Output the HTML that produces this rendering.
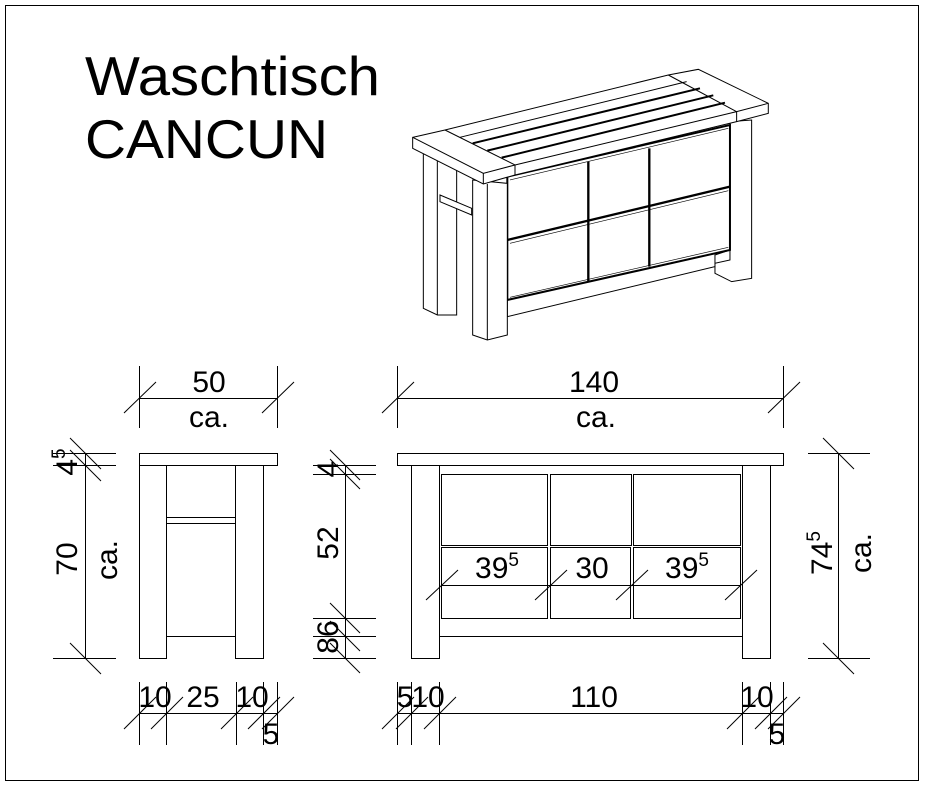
<!DOCTYPE html>
<html><head><style>html,body{margin:0;padding:0;background:#fff}svg{display:block}</style></head>
<body>
<svg width="925" height="788" viewBox="0 0 925 788" xmlns="http://www.w3.org/2000/svg" font-family="Liberation Sans, sans-serif">
<rect x="0" y="0" width="925" height="788" fill="#fff"/>
<rect x="5.5" y="5.5" width="913" height="775" fill="none" stroke="#000" stroke-width="1"/>
<text x="85" y="95" font-size="55" textLength="295" lengthAdjust="spacingAndGlyphs">Waschtisch</text>
<text x="85" y="158" font-size="55" textLength="243" lengthAdjust="spacingAndGlyphs">CANCUN</text>

<!-- isometric -->
<g transform="translate(400,60) scale(0.3333)" fill="#fff" stroke="#000" stroke-width="3">
  <polygon points="70,280 170,300 170,765 112,765 70,745"/>
  <line x1="112" y1="300" x2="112" y2="765"/>
  <polygon points="990,185 1055,180 1055,655 995,665 945,640 945,610 990,600"/>
  <polygon points="322,350 990,195 990,570 945,585 945,620 322,770"/>
  <polygon points="322,350 990,195 990,570 322,720" fill="none" stroke-width="6"/>
  <line x1="322" y1="540" x2="990" y2="380" stroke-width="7"/>
  <line x1="565" y1="305" x2="565" y2="665" stroke-width="7"/>
  <line x1="748" y1="265" x2="748" y2="620" stroke-width="7"/>
  <line x1="330" y1="360" x2="985" y2="205" stroke-width="2"/>
  <line x1="330" y1="550" x2="985" y2="392" stroke-width="2"/>
  <line x1="330" y1="712" x2="985" y2="562" stroke-width="2"/>
  <polygon points="120,405 215,445 215,465 120,425"/>
  <polygon points="218,360 322,370 322,825 262,840 218,825"/>
  <line x1="262" y1="372" x2="262" y2="840"/>
  <polygon points="38,232 135,210 805,45 895,28 1105,130 1105,160 1010,185 345,345 250,372 38,265"/>
  <polyline points="38,232 250,340 345,315 1010,155 1105,130" fill="none"/>
  <line x1="250" y1="340" x2="250" y2="372"/>
  <line x1="345" y1="315" x2="345" y2="345"/>
  <line x1="1010" y1="155" x2="1010" y2="185"/>
  <line x1="135" y1="210" x2="345" y2="315"/>
  <line x1="805" y1="45" x2="1010" y2="155"/>
  <line x1="180" y1="232" x2="860" y2="65"/>
  <line x1="218" y1="250" x2="900" y2="85" stroke-width="6"/>
  <line x1="262" y1="272" x2="940" y2="106" stroke-width="6"/>
  <line x1="305" y1="293" x2="975" y2="128" stroke-width="6"/>
</g>

<g stroke="#000" stroke-width="1" fill="none">
  <rect x="139.5" y="453.5" width="138" height="12"/>
  <rect x="139.5" y="465.5" width="27" height="193"/>
  <rect x="235.5" y="465.5" width="28" height="193"/>
  <line x1="166" y1="517.5" x2="236" y2="517.5"/>
  <line x1="166" y1="523.5" x2="236" y2="523.5"/>
  <line x1="166" y1="636.5" x2="236" y2="636.5"/>
  <line x1="139.5" y1="366" x2="139.5" y2="428"/>
  <line x1="277.5" y1="366" x2="277.5" y2="428"/>
  <line x1="139" y1="398.5" x2="278" y2="398.5"/>
  <line x1="124" y1="413" x2="156" y2="382"/>
  <line x1="262" y1="413" x2="294" y2="382"/>
  <line x1="53" y1="453.5" x2="116" y2="453.5"/>
  <line x1="53" y1="465.5" x2="116" y2="465.5"/>
  <line x1="53" y1="658.5" x2="116" y2="658.5"/>
  <line x1="85.5" y1="453" x2="85.5" y2="659"/>
  <line x1="70" y1="438" x2="101" y2="469"/>
  <line x1="70" y1="450" x2="101" y2="481"/>
  <line x1="70" y1="643" x2="101" y2="674"/>
  <line x1="139" y1="713.5" x2="278" y2="713.5"/>
  <line x1="139.5" y1="682" x2="139.5" y2="745"/>
  <line x1="166.5" y1="682" x2="166.5" y2="745"/>
  <line x1="236.5" y1="682" x2="236.5" y2="745"/>
  <line x1="263.5" y1="682" x2="263.5" y2="745"/>
  <line x1="277.5" y1="682" x2="277.5" y2="745"/>
  <line x1="124" y1="729" x2="156" y2="697"/>
  <line x1="151" y1="729" x2="183" y2="697"/>
  <line x1="221" y1="729" x2="253" y2="697"/>
  <line x1="248" y1="729" x2="280" y2="697"/>
  <line x1="262" y1="729" x2="294" y2="697"/>

  <rect x="397.5" y="453.5" width="386" height="12"/>
  <rect x="411.5" y="465.5" width="28" height="193"/>
  <rect x="742.5" y="465.5" width="28" height="193"/>
  <line x1="439" y1="636.5" x2="743" y2="636.5"/>
  <rect x="441.5" y="474.5" width="106" height="71"/>
  <rect x="550.5" y="474.5" width="81" height="71"/>
  <rect x="633.5" y="474.5" width="107" height="71"/>
  <rect x="441.5" y="547.5" width="106" height="71"/>
  <rect x="550.5" y="547.5" width="80" height="71"/>
  <rect x="633.5" y="547.5" width="107" height="71"/>
  <line x1="441" y1="585.5" x2="741" y2="585.5"/>
  <line x1="426" y1="600" x2="458" y2="570"/>
  <line x1="535" y1="600" x2="567" y2="570"/>
  <line x1="616" y1="600" x2="648" y2="570"/>
  <line x1="725" y1="600" x2="757" y2="570"/>
  <line x1="397.5" y1="366" x2="397.5" y2="428"/>
  <line x1="783.5" y1="366" x2="783.5" y2="428"/>
  <line x1="397" y1="398.5" x2="784" y2="398.5"/>
  <line x1="382" y1="413" x2="414" y2="382"/>
  <line x1="768" y1="413" x2="800" y2="382"/>
  <line x1="313" y1="465.5" x2="376" y2="465.5"/>
  <line x1="313" y1="474.5" x2="376" y2="474.5"/>
  <line x1="313" y1="618.5" x2="376" y2="618.5"/>
  <line x1="313" y1="636.5" x2="376" y2="636.5"/>
  <line x1="313" y1="658.5" x2="376" y2="658.5"/>
  <line x1="345.5" y1="465" x2="345.5" y2="659"/>
  <line x1="330" y1="450" x2="360" y2="480"/>
  <line x1="330" y1="459" x2="360" y2="489"/>
  <line x1="330" y1="603" x2="360" y2="633"/>
  <line x1="330" y1="621" x2="360" y2="651"/>
  <line x1="330" y1="643" x2="360" y2="673"/>
  <line x1="808" y1="453.5" x2="870" y2="453.5"/>
  <line x1="808" y1="658.5" x2="870" y2="658.5"/>
  <line x1="838.5" y1="453" x2="838.5" y2="659"/>
  <line x1="823" y1="438" x2="854" y2="469"/>
  <line x1="823" y1="643" x2="854" y2="674"/>
  <line x1="397" y1="713.5" x2="784" y2="713.5"/>
  <line x1="397.5" y1="682" x2="397.5" y2="745"/>
  <line x1="411.5" y1="682" x2="411.5" y2="745"/>
  <line x1="439.5" y1="682" x2="439.5" y2="745"/>
  <line x1="742.5" y1="682" x2="742.5" y2="745"/>
  <line x1="770.5" y1="682" x2="770.5" y2="745"/>
  <line x1="783.5" y1="682" x2="783.5" y2="745"/>
  <line x1="382" y1="729" x2="414" y2="697"/>
  <line x1="396" y1="729" x2="428" y2="697"/>
  <line x1="424" y1="729" x2="456" y2="697"/>
  <line x1="727" y1="729" x2="759" y2="697"/>
  <line x1="755" y1="729" x2="787" y2="697"/>
  <line x1="768" y1="729" x2="800" y2="697"/>
</g>

<g font-size="30" fill="#000" text-anchor="middle">
  <text x="209" y="392">50</text>
  <text x="209" y="427">ca.</text>
  <text x="594" y="392">140</text>
  <text x="596" y="427">ca.</text>
  <text x="155" y="707">10</text>
  <text x="203" y="707">25</text>
  <text x="252" y="707">10</text>
  <text x="271" y="744">5</text>
  <text x="405" y="707">5</text>
  <text x="428" y="707">10</text>
  <text x="594" y="707">110</text>
  <text x="757" y="707">10</text>
  <text x="777" y="744">5</text>
  <text x="592" y="578">30</text>
  <text x="497" y="578">39<tspan font-size="19" dy="-12">5</tspan></text>
  <text x="687" y="578">39<tspan font-size="19" dy="-12">5</tspan></text>
  <text transform="translate(77,559) rotate(-90)">70</text>
  <text transform="translate(117,560) rotate(-90)">ca.</text>
  <text transform="translate(77,462) rotate(-90)">4<tspan font-size="19" dy="-12">5</tspan></text>
  <text transform="translate(338,469) rotate(-90)">4</text>
  <text transform="translate(338,543) rotate(-90)">52</text>
  <text transform="translate(338,637) rotate(-90)">86</text>
  <text transform="translate(832,553) rotate(-90)">74<tspan font-size="19" dy="-12">5</tspan></text>
  <text transform="translate(871,553) rotate(-90)">ca.</text>
</g>
</svg>
</body></html>
